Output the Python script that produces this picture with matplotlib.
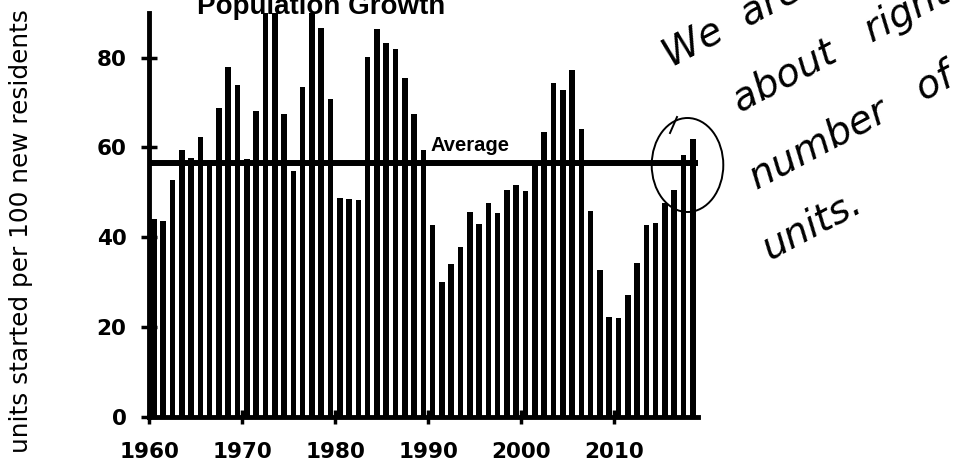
import matplotlib
matplotlib.use("Agg")
import matplotlib.pyplot as plt
from matplotlib.patches import Ellipse
import numpy as np

# units started per 100 new residents, 1960-2018
years = np.arange(1960, 2019)
units = [44.1, 43.7, 52.8, 59.5, 57.7, 62.3, 57.1, 68.8, 78.0, 74.0,
         57.3, 68.1, 96.0, 99.0, 67.5, 54.7, 73.4, 93.0, 86.7, 70.8,
         48.7, 48.4, 48.3, 80.2, 86.3, 83.2, 82.0, 75.4, 67.5, 59.4,
         42.6, 30.1, 34.0, 37.8, 45.5, 43.0, 47.5, 45.4, 50.4, 51.6,
         50.2, 56.5, 63.4, 74.3, 72.8, 77.2, 64.1, 45.9, 32.6, 22.3,
         22.0, 27.2, 34.2, 42.6, 43.2, 47.5, 50.6, 58.3, 61.9]
average = 56.5
xticks = [1960, 1970, 1980, 1990, 2000, 2010]
yticks = [0, 20, 40, 60, 80]
note = ["We  are", "about   right", "number   of", "units."]

plt.rcParams['font.family'] = ['Liberation Sans', 'DejaVu Sans']

W, H = 973, 461
fig = plt.figure(figsize=(W / 100, H / 100), dpi=100)
ax = fig.add_axes([149.3 / W, 1 - 416.7 / H, 548.6 / W, 404 / H])

ax.bar(years + 0.5, units, width=0.6, color='black', zorder=2)
ax.axhline(average, color='black', lw=4.3, zorder=3)
ax.text(1990.3, 59.2, "Average", fontsize=14.5, fontweight='bold', va='baseline')

ax.set_xlim(1960, 2019.05)
ax.set_ylim(0, 90)
ax.set_xticks(xticks)
ax.set_yticks(yticks)
for sp in ['top', 'right']:
    ax.spines[sp].set_visible(False)
for sp in ['left', 'bottom']:
    ax.spines[sp].set_linewidth(3.5)
    ax.spines[sp].set_zorder(4)
ax.tick_params(axis='y', direction='inout', length=11, width=2.5, pad=11)
ax.tick_params(axis='x', direction='inout', length=10, width=2.5, pad=13)
for lab in ax.get_xticklabels() + ax.get_yticklabels():
    lab.set_fontweight('bold')
    lab.set_fontfamily('DejaVu Sans')
    lab.set_fontsize(15.5)

fig.text(21 / W, 1 - 231 / H, "units started per 100 new residents", rotation=90,
         ha='center', va='center', fontsize=17.8, family=['DejaVu Sans'])
fig.text(197 / W, 1 - 14 / H, "Population Growth", ha='left', va='baseline',
         fontsize=20, fontweight='bold')

# handwritten note
starts = [(671, 68), (740, 113), (757, 190), (770, 260)]
for (px, py), line in zip(starts, note):
    fig.text(px / W, 1 - py / H, line, rotation=28, rotation_mode='anchor',
             ha='left', va='baseline', fontsize=28, style='oblique',
             family=['DejaVu Sans'])

fig.patches.append(Ellipse((687.5 / W, 1 - 165 / H), 71.6 / W, 94 / H,
                           transform=fig.transFigure, fill=False, lw=1.4,
                           ec='black', zorder=5))
fig.lines.append(plt.Line2D([670 / W, 677 / W], [1 - 133 / H, 1 - 117 / H],
                            transform=fig.transFigure, color='black', lw=1.4))

fig.savefig("out.png", dpi=100)
